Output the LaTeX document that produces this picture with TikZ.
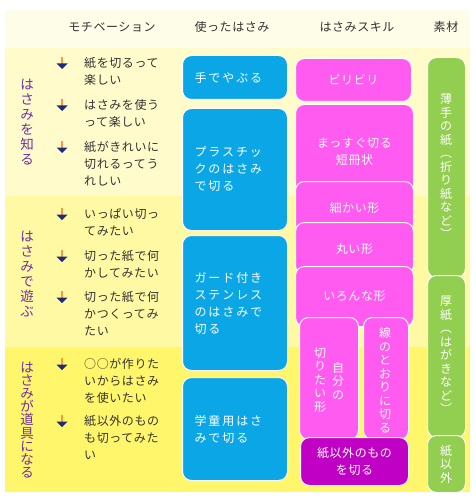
\documentclass[tikz,border=0pt]{standalone}
\usepackage{fontspec}
\setmainfont{Noto Sans CJK JP}
\newfontfamily\jpfont[LetterSpace=5]{Noto Sans CJK JP}
\newfontfamily\jpwide[LetterSpace=16]{Noto Sans CJK JP}
\usepackage{xcolor}
\usepackage{tikz}
\definecolor{headbg}{HTML}{FEFDE8}
\definecolor{bandA}{HTML}{FFFBCB}
\definecolor{bandB}{HTML}{FFF9A4}
\definecolor{bandC}{HTML}{FFF66C}
\definecolor{scisblue}{HTML}{0AA6E6}
\definecolor{skillpink}{HTML}{FF5BF0}
\definecolor{skilldark}{HTML}{C000C4}
\definecolor{matgreen}{HTML}{92CF50}
\definecolor{labelpurple}{HTML}{7030A0}
\definecolor{bulnavy}{HTML}{1F2A7A}
\definecolor{bulorange}{HTML}{F59A40}

\begin{document}
\begin{tikzpicture}[
  x=1pt, y=-1pt,
  head/.style={font=\jpfont\fontsize{12}{14}\selectfont, text=black!80},
  motiv/.style={anchor=north west, inner sep=0pt, align=left, text=black!80,
                font=\jpfont\fontsize{12}{17}\selectfont},
  vlabel/.style={align=center, inner sep=0pt, text=labelpurple,
                 font=\fontsize{13.5}{15}\selectfont},
  card/.style={rectangle, rounded corners=9pt, draw=white, line width=1pt,
               anchor=north west, inner sep=0pt, text=white},
  scis/.style={card, fill=scisblue, inner xsep=12pt, text width=81pt, align=left,
               font=\jpwide\fontsize{12}{17}\selectfont},
  skill/.style={card, fill=skillpink, minimum width=118pt, align=center,
                font=\jpfont\fontsize{12}{17}\selectfont},
  mat/.style={card, fill=matgreen, minimum width=38pt},
  vtext/.style={align=center, inner sep=0pt, text=white,
                font=\fontsize{12}{13.5}\selectfont}
]
\useasboundingbox (0,0) rectangle (475,500);
% background bands
\fill[white] (0,0) rectangle (475,500);
\fill[headbg] (5,10) rectangle (470,48);
\fill[bandA] (5,48) rectangle (470,196);
\fill[bandB] (5,196) rectangle (470,347);
\fill[bandC] (5,347) rectangle (470,492);

% column heads
\node[head] (hmot) at (112,27) {モチベーション};
\node[head] (huse) at (232,27) {使ったはさみ};
\node[head] (hskill) at (357,27) {はさみスキル};
\node[head] (hmat) at (446,27) {素材};

% row labels
\node[vlabel] (know) at (27,122) {は\\さ\\み\\を\\知\\る};
\node[vlabel] (play) at (27,274) {は\\さ\\み\\で\\遊\\ぶ};
\node[vlabel, font=\fontsize{13.5}{13.2}\selectfont] (tool) at (27,420)
  {は\\さ\\み\\が\\道\\具\\に\\な\\る};

% motivations
\foreach \y in {64,106,148,215,257,298,365,422} {
  \draw[bulorange, line width=1.6pt] (62,\y-7) -- (62,\y);
  \fill[bulnavy] (56.5,\y-0.5) -- (67.5,\y-0.5) -- (62,\y+5) -- cycle;
}
\node[motiv] (m1) at (84,57) {紙を切るって\\楽しい};
\node[motiv] (m2) at (84,99) {はさみを使う\\って楽しい};
\node[motiv] (m3) at (84,141) {紙がきれいに\\切れるってう\\れしい};
\node[motiv] (m4) at (84,208) {いっぱい切っ\\てみたい};
\node[motiv] (m5) at (84,250) {切った紙で何\\かしてみたい};
\node[motiv] (m6) at (84,291) {切った紙で何\\かつくってみ\\たい};
\node[motiv] (m7) at (84,358) {○○が作りた\\いからはさみ\\を使いたい};
\node[motiv] (m8) at (84,415) {紙以外のもの\\も切ってみた\\い};

% scissors
\node[scis, minimum height=44pt] (hand) at (182,55) {手でやぶる};
\node[scis, minimum height=122pt] (plastic) at (182,108) {プラスチッ\\クのはさみ\\で切る};
\node[scis, minimum height=135pt] (guard) at (182,235) {ガード付き\\ステンレス\\のはさみで\\切る};
\node[scis, minimum height=103pt] (school) at (182,377) {学童用はさ\\みで切る};

% skills
\node[skill, minimum width=116pt, minimum height=43pt] (tear) at (295,58) {ビリビリ};
\node[skill, minimum height=94pt] (straight) at (295,104) {まっすぐ切る\\短冊状};
\node[skill, minimum height=52pt] (fine) at (295,181) {細かい形};
\node[skill, minimum height=52pt] (round) at (295,222) {丸い形};
\node[skill, minimum height=60pt] (various) at (295,266) {いろんな形};
\node[skill, minimum width=59pt, minimum height=122pt] (own) at (299,317) {};
\node[skill, minimum width=45pt, minimum height=122pt] (line) at (363,317) {};
\node[vtext] (ownL) at (320,380) {切\\り\\た\\い\\形};
\node[vtext] (ownR) at (338,381) {自\\分\\の};
\node[vtext] (lineT) at (385,380) {線\\の\\と\\お\\り\\に\\切\\る};
\node[skill, fill=skilldark, minimum width=108pt, minimum height=48pt] (other) at (300,437)
  {紙以外のもの\\を切る};

% materials
\node[mat, minimum height=220pt] (thin) at (427,57) {};
\node[mat, minimum height=162pt] (thick) at (427,275) {};
\node[mat, minimum height=57pt] (nonpaper) at (427,435) {};
\node[vtext] (thinT) at (446,166) {薄\\手\\の\\紙\\︵\\折\\り\\紙\\な\\ど\\︶};
\node[vtext] (thickT) at (446,355) {厚\\紙\\︵\\は\\が\\き\\な\\ど\\︶};
\node[vtext] (nonT) at (446,464) {紙\\以\\外};
\end{tikzpicture}
\end{document}
